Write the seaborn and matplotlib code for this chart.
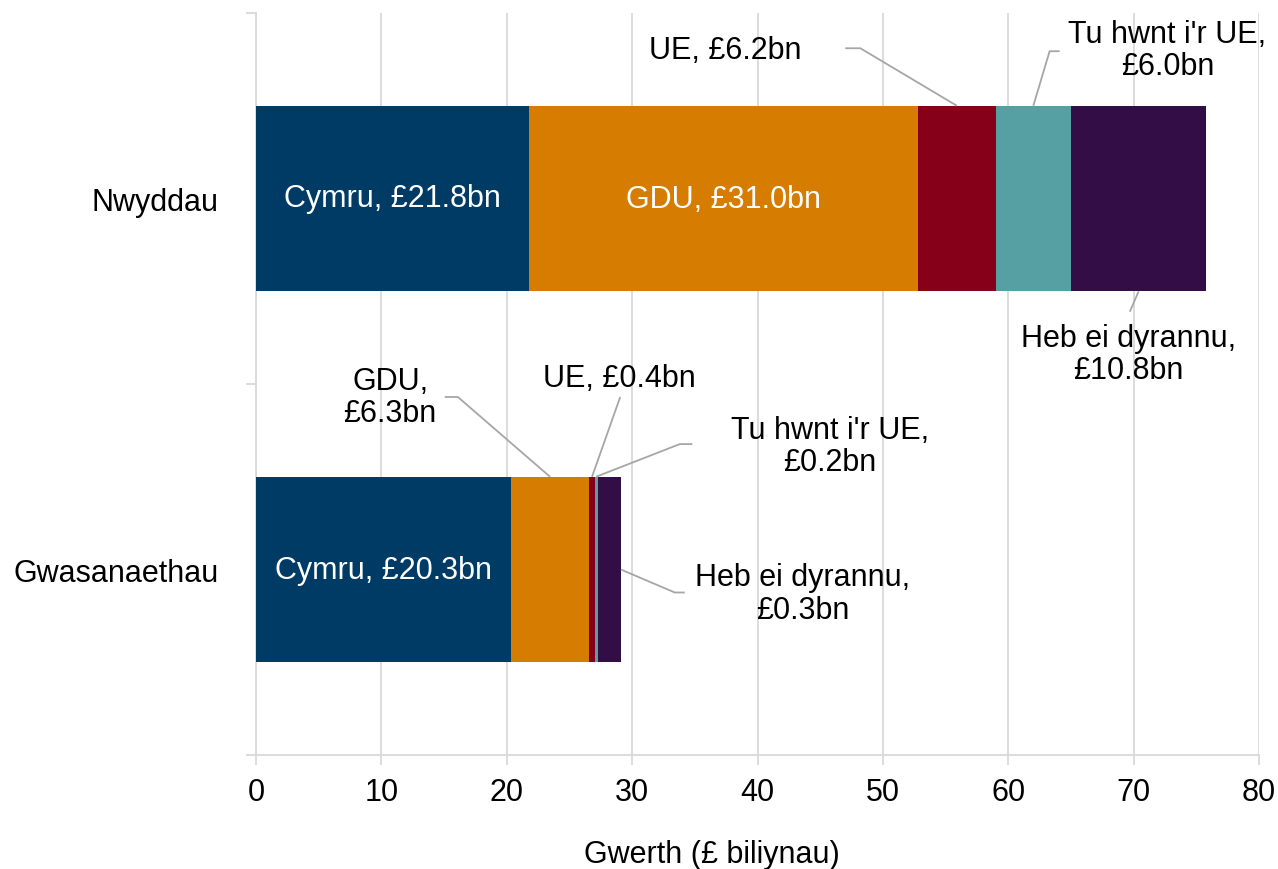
import matplotlib
matplotlib.use("Agg")
import matplotlib.pyplot as plt
import seaborn as sns
import numpy as np
import pandas as pd

# ---- data ----
categories = ["Nwyddau", "Gwasanaethau"]
series_names = ["Cymru", "GDU", "UE", "Tu hwnt i'r UE", "Heb ei dyrannu"]
cymru = [21.8, 20.3]
gdu = [31.0, 6.3]
ue = [6.2, 0.4]
tu_hwnt = [6.0, 0.25]
heb = [10.8, 1.85]
colors = ["#003B66", "#D67C00", "#870019", "#56A0A3", "#330D46"]

inside_labels = [["Cymru, £21.8bn", "Cymru, £20.3bn"], ["GDU, £31.0bn", None]]
outside_labels = {
    (2, 0): "UE, £6.2bn",
    (3, 0): "Tu hwnt i'r UE,\n£6.0bn",
    (4, 0): "Heb ei dyrannu,\n£10.8bn",
    (1, 1): "GDU,\n£6.3bn",
    (2, 1): "UE, £0.4bn",
    (3, 1): "Tu hwnt i'r UE,\n£0.2bn",
    (4, 1): "Heb ei dyrannu,\n£0.3bn",
}
x_ticks = [0, 10, 20, 30, 40, 50, 60, 70, 80]
x_label = "Gwerth (£ biliynau)"

sns.set_theme(style="white")
plt.rcParams["font.family"] = ["Liberation Sans", "DejaVu Sans"]

fig = plt.figure(figsize=(12.78, 8.70), dpi=100)
ax = fig.add_axes([256 / 1278, 1 - 756 / 870, (1259 - 256) / 1278, (756 - 14) / 870])

series = [cymru, gdu, ue, tu_hwnt, heb]
cum = np.cumsum(np.array(series), axis=0)
starts = cum - np.array(series)

# draw cumulative totals, largest first so each stack segment shows
for i in range(len(series) - 1, -1, -1):
    df = pd.DataFrame({"cat": categories, "val": cum[i]})
    sns.barplot(data=df, x="val", y="cat", orient="h", color=colors[i],
                saturation=1, width=0.5, linewidth=0, errorbar=None, ax=ax,
                zorder=3)

grey = "#D9D9D9"
ax.set_xlim(0, 80)
ax.set_ylim(1.5, -0.5)
ax.set_xticks(x_ticks)
ax.set_xticklabels([str(t) for t in x_ticks])
ax.grid(axis="x", color=grey, linewidth=1.3, zorder=0)
ax.grid(axis="y", visible=False)
ax.set_axisbelow(True)
for s in ["top", "right"]:
    ax.spines[s].set_visible(False)
for s in ["left", "bottom"]:
    ax.spines[s].set_color(grey)
    ax.spines[s].set_linewidth(1.3)

ax.tick_params(axis="x", which="major", bottom=True, length=7, width=1.3,
               color=grey, labelsize=22, pad=9, labelcolor="black")
ax.set_yticks([-0.5, 0.5, 1.5], minor=True)
ax.tick_params(axis="y", which="minor", left=True, length=7, width=1.3, color=grey)
ax.tick_params(axis="y", which="major", left=False, length=0, labelsize=22,
               pad=27, labelcolor="black")

ax.set_ylabel("")
ax.set_xlabel(x_label, fontsize=22, color="black", va="center")
ax.xaxis.set_label_coords(0.4546, -0.134)

# inside labels
for i, row in enumerate(inside_labels):
    for j, txt in enumerate(row):
        if txt:
            ax.text(starts[i, j] + series[i][j] / 2, j, txt, color="white",
                    fontsize=22, ha="center", va="center", zorder=5)

# outside labels with leader lines
line_c = "#A6A6A6"
half = 0.25
specs = {
    (2, 0): ((37.4, -0.40), [(48.2, -0.405), (47.0, -0.405)], "top"),
    (3, 0): ((72.7, -0.40), [(63.3, -0.397), (64.1, -0.397)], "top"),
    (4, 0): ((69.6, 0.42), [(69.7, 0.305)], "bottom"),
    (1, 1): ((10.7, 0.535), [(16.1, 0.535), (15.05, 0.535)], "top"),
    (2, 1): ((28.95, 0.485), [(29.05, 0.535)], "top"),
    (3, 1): ((45.8, 0.668), [(33.8, 0.662), (34.8, 0.662)], "top"),
    (4, 1): ((43.6, 1.065), [(33.4, 1.062), (34.2, 1.062)], "end"),
}
for (i, j), txt in outside_labels.items():
    (tx, ty), pts, side = specs[(i, j)]
    if side == "top":
        ax_pt = (starts[i, j] + series[i][j] / 2, j - half)
    elif side == "bottom":
        ax_pt = (starts[i, j] + series[i][j] / 2, j + half)
    else:
        ax_pt = (cum[i, j], j)
    xs = [ax_pt[0]] + [p[0] for p in pts]
    ys = [ax_pt[1]] + [p[1] for p in pts]
    ax.plot(xs, ys, color=line_c, linewidth=1.3, zorder=4, solid_capstyle="butt")
    ax.text(tx, ty, txt, fontsize=22, ha="center", va="center",
            multialignment="center", color="black", zorder=5, linespacing=1.1)

fig.savefig("out.png", dpi=100, facecolor="white")
